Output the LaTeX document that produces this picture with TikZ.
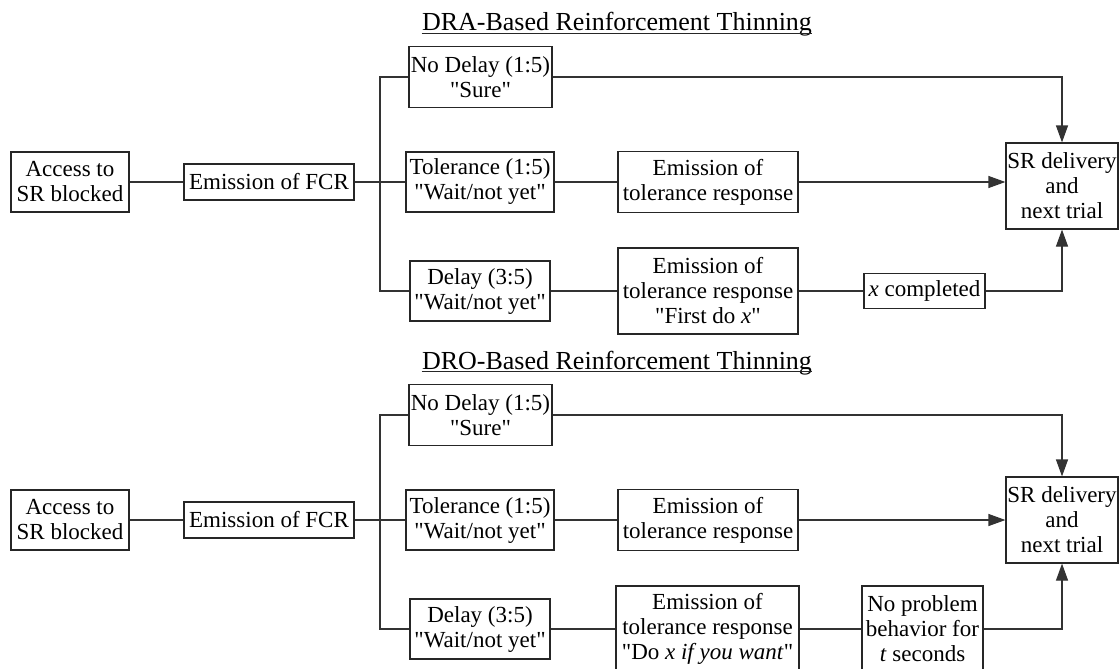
\documentclass[tikz,border=0pt]{standalone}
\usepackage{fontspec}
\setmainfont{Liberation Serif}[Ligatures=TeXOff]
\usetikzlibrary{arrows.meta}

\tikzset{
  box/.style={draw=black!85, line width=0.6pt, align=center, inner sep=0pt,
    font=\fontsize{11.5}{12.5}\selectfont},
  link/.style={draw=black!80, line width=0.6pt},
  flow/.style={link, -{Triangle[length=8.5pt,width=6pt]}},
  heading/.style={anchor=base, inner sep=0pt, font=\fontsize{13}{15}\selectfont},
  rule/.style={draw=black!85, line width=0.7pt}
}

\begin{document}
\begin{tikzpicture}[x=0.5pt, y=-0.5pt]
  \useasboundingbox (0,0) rectangle (1119,669);

  % DRA panel
  \node (ttlA) [heading] at (617,31) {DRA-Based Reinforcement Thinning};
  \draw [rule] ([yshift=-1.2pt]ttlA.base west) -- ([yshift=-1.2pt]ttlA.base east);
  \node (accA) [box, minimum width=59pt, minimum height=30pt] at (70,182) {Access to\\SR blocked};
  \node (fcrA) [box, minimum width=85pt, minimum height=18pt] at (269,182) {Emission of FCR};
  \coordinate (brA) at (380,182);
  \node (nodA) [box, minimum width=71.5pt, minimum height=30.5pt] at (480.5,77) {No Delay (1:5)\\"Sure"};
  \node (tolA) [box, minimum width=74pt, minimum height=30pt] at (480,182) {Tolerance (1:5)\\"Wait/not yet"};
  \node (delA) [box, minimum width=70pt, minimum height=30pt] at (480,291) {Delay (3:5)\\"Wait/not yet"};
  \node (emtA) [box, minimum width=90pt, minimum height=30.5pt] at (708,182) {Emission of\\tolerance response};
  \node (emdA) [box, minimum width=90pt, minimum height=43pt] at (708,291) {Emission of\\tolerance response\\"First do \textit{x}"};
  \node (xcA) [box, minimum width=60.5pt, minimum height=17.5pt] at (924.5,291) {\textit{x} completed};
  \node (srA) [box, minimum width=56pt, minimum height=43pt] at (1062,186) {SR delivery\\and\\next trial};

  \draw [link] (accA) -- (fcrA);
  \draw [link] (fcrA) -- (tolA);
  \draw [link] (nodA.west) -| (brA) |- (delA.west);
  \draw [link] (tolA) -- (emtA);
  \draw [link] (delA) -- (emdA);
  \draw [link] (emdA) -- (xcA);
  \draw [flow] (nodA.east) -| (srA.north);
  \draw [flow] (emtA.east) -- (emtA.east -| srA.west);
  \draw [flow] (xcA.east) -| (srA.south);

  % DRO panel
  \node (ttlB) [heading] at (617,369) {DRO-Based Reinforcement Thinning};
  \draw [rule] ([yshift=-1.2pt]ttlB.base west) -- ([yshift=-1.2pt]ttlB.base east);
  \node (accB) [box, minimum width=59pt, minimum height=30pt] at (70,520) {Access to\\SR blocked};
  \node (fcrB) [box, minimum width=85pt, minimum height=18pt] at (269,520) {Emission of FCR};
  \coordinate (brB) at (380,520);
  \node (nodB) [box, minimum width=71.5pt, minimum height=30.5pt] at (480.5,415) {No Delay (1:5)\\"Sure"};
  \node (tolB) [box, minimum width=74pt, minimum height=30pt] at (480,520) {Tolerance (1:5)\\"Wait/not yet"};
  \node (delB) [box, minimum width=70pt, minimum height=30pt] at (480,629) {Delay (3:5)\\"Wait/not yet"};
  \node (emtB) [box, minimum width=90pt, minimum height=30.5pt] at (708,520) {Emission of\\tolerance response};
  \node (emnB) [box, minimum width=91.5pt, minimum height=43pt] at (707.5,629) {Emission of\\tolerance response\\"Do \textit{x if you want}"};
  \node (npB) [box, minimum width=60.5pt, minimum height=43pt] at (922.5,629) {No problem\\behavior for\\\textit{t} seconds};
  \node (srB) [box, minimum width=56pt, minimum height=43pt] at (1062,520) {SR delivery\\and\\next trial};

  \draw [link] (accB) -- (fcrB);
  \draw [link] (fcrB) -- (tolB);
  \draw [link] (nodB.west) -| (brB) |- (delB.west);
  \draw [link] (tolB) -- (emtB);
  \draw [link] (delB) -- (emnB);
  \draw [link] (emnB) -- (npB);
  \draw [flow] (nodB.east) -| (srB.north);
  \draw [flow] (emtB.east) -- (emtB.east -| srB.west);
  \draw [flow] (npB.east) -| (srB.south);
\end{tikzpicture}
\end{document}
